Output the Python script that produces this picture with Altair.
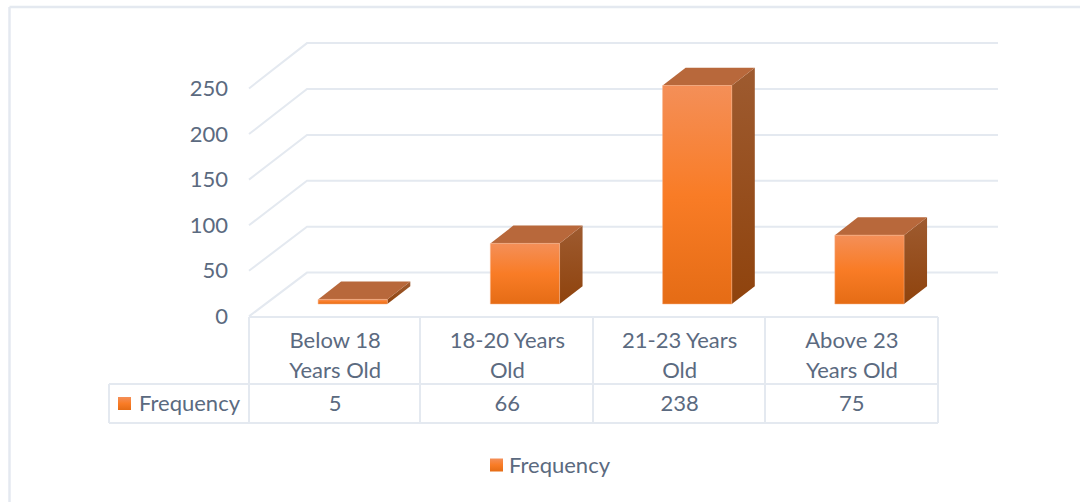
import altair as alt
import pandas as pd

# Chart data
categories = ["Below 18 Years Old", "18-20 Years Old", "21-23 Years Old", "Above 23 Years Old"]
category_lines = [["Below 18", "Years Old"], ["18-20 Years", "Old"], ["21-23 Years", "Old"], ["Above 23", "Years Old"]]
frequency = [5, 66, 238, 75]
value_ticks = [0, 50, 100, 150, 200, 250]
series_name = "Frequency"

# Canvas and scale calibration (pixels)
W, H = 1080, 502
CAT_STEP = 172.25        # table column width
CAT0_CENTER = 335.1      # centre of the first column
PX_PER_UNIT = 0.918      # vertical pixels per frequency unit
BASE_Y = 304.0           # pixel row of a bar's front base

x_domain = [(0 - CAT0_CENTER) / CAT_STEP, (W - CAT0_CENTER) / CAT_STEP]
y_domain = [(BASE_Y - H) / PX_PER_UNIT, BASE_Y / PX_PER_UNIT]

x_scale = alt.Scale(domain=x_domain, range=[0, W], nice=False, zero=False)
y_scale = alt.Scale(domain=y_domain, range=[H, 0], nice=False, zero=False)
X = lambda f: alt.X(f, type="quantitative", scale=x_scale, axis=None)
Y = lambda f: alt.Y(f, type="quantitative", scale=y_scale, axis=None)

# Oblique projection used for the bars and the floor/wall grid
BAR_HALF = 34.6 / CAT_STEP
BAR_SHIFT = 17.6 / CAT_STEP   # bars sit deeper in the floor than the table columns
DEPTH_X = 23.0 / CAT_STEP
DEPTH_Y = 17.8 / PX_PER_UNIT
FLOOR_FRONT = (BASE_Y - 316.4) / PX_PER_UNIT
FLOOR_BACK = (BASE_Y - 272.6) / PX_PER_UNIT
FRONT_EDGE_SCALE = 0.993      # the front edge of the walls is slightly foreshortened
WALL_LEFT = (249 - CAT0_CENTER) / CAT_STEP
WALL_BACK_LEFT = (307 - CAT0_CENTER) / CAT_STEP
WALL_RIGHT = (998 - CAT0_CENTER) / CAT_STEP

GRID = "#e4e9f0"
TEXT = "#5b6a80"
FONT = "Lato"
FONT_SIZE = 22
TEXT_DY = 0.5


def vgrad(*stops):
    return alt.Gradient(
        gradient="linear", x1=0, y1=0, x2=0, y2=1,
        stops=[alt.GradientStop(offset=o, color=c) for o, c in stops],
    )


FRONT = vgrad((0, "#f48f58"), (0.5, "#f97c26"), (1, "#e56c15"))
SIDE = vgrad((0, "#9e5b30"), (1, "#8f430d"))

bars = pd.DataFrame({"pos": range(len(frequency)), "value": frequency})
bars["left"] = bars.pos + BAR_SHIFT - BAR_HALF
bars["right"] = bars.pos + BAR_SHIFT + BAR_HALF

side_rows, top_rows = [], []
for p, v, l, r in zip(bars.pos, bars.value, bars.left, bars.right):
    side_rows += [
        {"bar": p, "x": r, "lo": 0, "hi": v},
        {"bar": p, "x": r + DEPTH_X, "lo": DEPTH_Y, "hi": v + DEPTH_Y},
    ]
    top_rows += [
        {"bar": p, "x": l, "lo": v, "hi": v},
        {"bar": p, "x": l + DEPTH_X, "lo": v, "hi": v + DEPTH_Y},
        {"bar": p, "x": r, "lo": v, "hi": v + DEPTH_Y},
        {"bar": p, "x": r + DEPTH_X, "lo": v + DEPTH_Y, "hi": v + DEPTH_Y},
    ]
side_df = pd.DataFrame(side_rows)
top_df = pd.DataFrame(top_rows)

grid_rows = []
for t in value_ticks:
    grid_rows += [
        {"tick": t, "x": WALL_LEFT, "y": t * FRONT_EDGE_SCALE + FLOOR_FRONT, "o": 0},
        {"tick": t, "x": WALL_BACK_LEFT, "y": t + FLOOR_BACK, "o": 1},
        {"tick": t, "x": WALL_RIGHT, "y": t + FLOOR_BACK, "o": 2},
    ]
grid_df = pd.DataFrame(grid_rows)

grid = alt.Chart(grid_df).mark_line(color=GRID, strokeWidth=2).encode(
    x=X("x"), y=Y("y"), detail="tick:N", order="o:Q"
)
side = alt.Chart(side_df).mark_area(color=SIDE, line=False).encode(
    x=X("x"), y=Y("lo"), y2="hi:Q", detail="bar:N"
)
top = alt.Chart(top_df).mark_area(color="#b8683b", line=False).encode(
    x=X("x"), y=Y("lo"), y2="hi:Q", detail="bar:N"
)
front = alt.Chart(bars).mark_bar(color=FRONT, stroke="#f9b084", strokeWidth=0.5).encode(
    x=X("left"), x2="right:Q", y=Y("value"), y2=alt.datum(0)
)

tick_df = pd.DataFrame({
    "tick": value_ticks,
    "y": [t * FRONT_EDGE_SCALE + FLOOR_FRONT for t in value_ticks],
})
tick_labels = alt.Chart(tick_df).mark_text(
    align="right", baseline="middle", font=FONT, fontSize=FONT_SIZE, color=TEXT, dy=TEXT_DY
).encode(x=alt.value(228), y=Y("y"), text="tick:Q")


def rules(segments, width=2, color=GRID):
    """Straight panel lines given as (x1, y1, x2, y2) pixel tuples."""
    df = pd.DataFrame(segments, columns=["a", "b", "c", "d"])
    return alt.layer(*[
        alt.Chart(pd.DataFrame({"k": [0]})).mark_rule(color=color, strokeWidth=width).encode(
            x=alt.value(r.a), x2=alt.value(r.c), y=alt.value(r.b), y2=alt.value(r.d)
        )
        for r in df.itertuples()
    ])


frame = rules([(9.5, 7, 1080, 7), (9.5, 7, 9.5, 502)], width=2.5)
table = rules([
    (249, 317, 938, 317), (109, 384, 938, 384), (109, 423, 938, 423),
    (109, 384, 109, 423), (249, 317, 249, 423), (420, 317, 420, 423),
    (593, 317, 593, 423), (765, 317, 765, 423), (938, 317, 938, 423),
])

head_rows = []
for p, lines in enumerate(category_lines):
    for i, s in enumerate(lines):
        head_rows.append({"pos": p, "line": i, "label": s})
head_df = pd.DataFrame(head_rows)
head = alt.Chart(head_df).mark_text(
    align="center", baseline="middle", font=FONT, fontSize=FONT_SIZE, color=TEXT, dy=TEXT_DY
).encode(
    x=X("pos"),
    y=alt.Y("line:Q", scale=alt.Scale(domain=[0, 1], range=[340.5, 370]), axis=None),
    text="label:N",
)
value_df = pd.DataFrame({"pos": range(len(frequency)), "value": frequency})
values = alt.Chart(value_df).mark_text(
    align="center", baseline="middle", font=FONT, fontSize=FONT_SIZE, color=TEXT, dy=TEXT_DY
).encode(x=X("pos"), y=alt.value(403.5), text="value:Q")


def legend_key(x, y, xt):
    one = pd.DataFrame({"name": [series_name]})
    swatch = alt.Chart(one).mark_rect(color=vgrad((0, "#f48f58"), (0.5, "#f97c26"), (1, "#e56c15"))).encode(
        x=alt.value(x), x2=alt.value(x + 13), y=alt.value(y - 6.5), y2=alt.value(y + 6.5)
    )
    label = alt.Chart(one).mark_text(
        align="left", baseline="middle", font=FONT, fontSize=FONT_SIZE, color=TEXT, dy=TEXT_DY
    ).encode(x=alt.value(xt), y=alt.value(y), text="name:N")
    return swatch + label


chart = alt.layer(
    frame, grid, side, top, front, tick_labels, table, head, values,
    legend_key(118, 403.5, 139), legend_key(490, 465, 509),
).resolve_scale(y="independent").properties(
    width=W, height=H, padding=0, background="white",
    autosize=alt.AutoSizeParams(type="none"),
).configure_view(stroke=None)

chart.save("out.html", embed_options={"renderer": "svg", "actions": False})
